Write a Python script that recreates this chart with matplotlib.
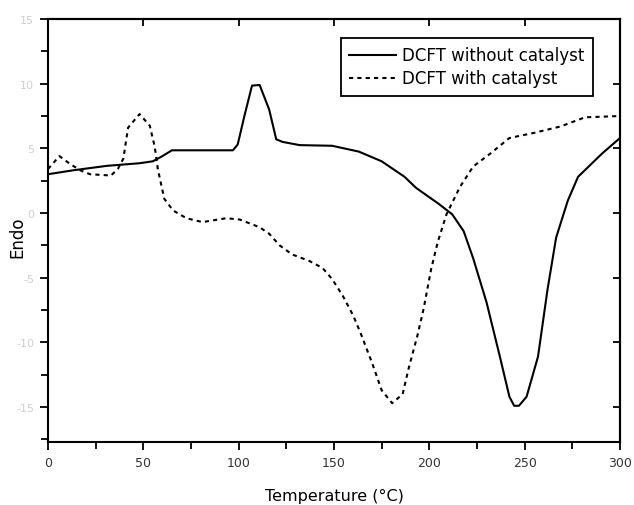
import numpy as np
import matplotlib
matplotlib.use("Agg")
import matplotlib.pyplot as plt
from matplotlib.ticker import MultipleLocator

plt.rcParams["axes.unicode_minus"] = False

# DSC curve without catalyst (solid)
temp_plain = [0, 13, 31, 48, 55, 60, 65, 97, 99.5, 103, 107, 111, 116, 119.7, 123,
              132, 149, 163, 175, 187, 193, 205, 212, 218, 223, 230, 237, 242,
              244.5, 247, 251, 257, 262, 266.5, 272.6, 278, 290.6, 300]
endo_plain = [3.0, 3.3, 3.65, 3.85, 4.0, 4.4, 4.85, 4.85, 5.3, 7.5, 9.85, 9.9, 8.0, 5.7, 5.5,
              5.25, 5.2, 4.75, 4.0, 2.8, 1.95, 0.7, -0.1, -1.4, -3.5, -6.9, -11.1, -14.2,
              -14.9, -14.9, -14.2, -11.1, -5.9, -1.9, 0.95, 2.8, 4.6, 5.8]

# DSC curve with catalyst (dashed)
temp_cat = [0, 6, 11.5, 17, 22, 33, 36.6, 39.5, 42, 48, 53.4, 56, 57.6, 61, 65.6,
            72.6, 81, 93.5, 100.5, 111, 116, 121.5, 128, 137, 144, 149, 154.6, 160,
            164, 170, 175, 180.5, 186, 189, 193.7, 197, 201, 204.5, 209, 216, 223,
            232, 242, 255, 269, 281.6, 300]
endo_cat = [3.4, 4.4, 3.8, 3.3, 3.0, 2.9, 3.4, 4.2, 6.6, 7.65, 6.75, 5.1, 3.4, 1.1, 0.2,
            -0.4, -0.7, -0.4, -0.5, -1.1, -1.6, -2.5, -3.2, -3.7, -4.25, -5.1, -6.4, -7.9,
            -9.3, -11.6, -13.7, -14.7, -14.0, -12.1, -9.5, -7.4, -4.3, -2.2, -0.1, 2.0, 3.6,
            4.6, 5.8, 6.2, 6.7, 7.4, 7.5]

x_ticks = [0, 50, 100, 150, 200, 250, 300]
y_ticks = [-15, -10, -5, 0, 5, 10, 15]

fig = plt.figure(figsize=(6.34, 5.06), dpi=100)
ax = fig.add_axes([48 / 634, 1 - 443 / 506, 572 / 634, 423 / 506])

ax.plot(temp_plain, endo_plain, color="black", lw=1.5, label="DCFT without catalyst")
ax.plot(temp_cat, endo_cat, color="black", lw=1.5, linestyle=(0, (2, 2)),
        label="DCFT with catalyst")

ax.set_xlim(0, 300)
ax.set_ylim(-17.7, 15)
ax.set_xticks(x_ticks)
ax.set_yticks(y_ticks)
ax.xaxis.set_minor_locator(MultipleLocator(25))
ax.yaxis.set_minor_locator(MultipleLocator(2.5))
ax.tick_params(which="major", direction="out", length=6, width=1.3)
ax.tick_params(which="minor", direction="out", length=5, width=1.3)
ax.tick_params(axis="x", labelsize=9, labelcolor="#333333", pad=4)
ax.tick_params(axis="y", labelsize=8, labelcolor="#cfcfcf", pad=4)

# inward major ticks on top and right, no labels
top = ax.secondary_xaxis("top")
top.set_xticks(x_ticks)
top.tick_params(direction="in", length=5, width=1.3, labeltop=False)
right = ax.secondary_yaxis("right")
right.set_yticks(y_ticks)
right.tick_params(direction="in", length=5, width=1.3, labelright=False)

for a in (ax, top, right):
    for s in a.spines.values():
        s.set_linewidth(1.5)

ax.set_xlabel("Temperature (°C)", fontsize=11.5, labelpad=14)
ax.set_ylabel("Endo", fontsize=12)
ax.yaxis.set_label_coords(-0.038, 0.487)

leg = ax.legend(loc="upper right", bbox_to_anchor=(0.953, 0.955), borderaxespad=0,
                fancybox=False, edgecolor="black", framealpha=1, fontsize=12,
                handlelength=2.8, handletextpad=0.4, borderpad=0.5,
                labelspacing=0.3)
leg.get_frame().set_linewidth(1.3)

fig.savefig("out.png", dpi=100)
